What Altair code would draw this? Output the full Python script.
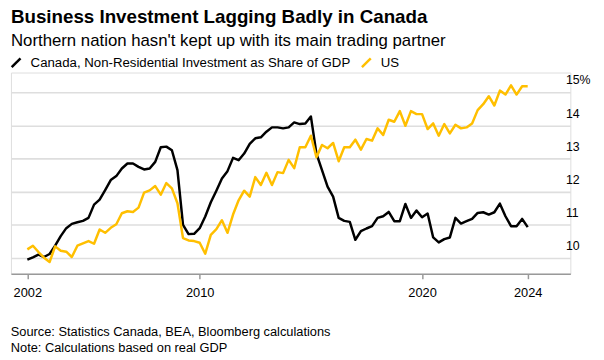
import altair as alt
import pandas as pd

title_text = "Business Investment Lagging Badly in Canada"
subtitle_text = "Northern nation hasn't kept up with its main trading partner"
series_names = ["Canada, Non-Residential Investment as Share of GDP", "US"]
series_colors = ["#000000", "#FFBF00"]
source_lines = [
    "Source: Statistics Canada, BEA, Bloomberg calculations",
    "Note: Calculations based on real GDP",
]

# Quarterly shares of GDP (%)
canada = [
    9.95, 10.02, 10.10, 10.03, 10.12, 10.37, 10.66, 10.90, 11.03, 11.08,
    11.12, 11.21, 11.61, 11.76, 12.05, 12.35, 12.47, 12.70, 12.85, 12.85,
    12.75, 12.67, 12.70, 12.90, 13.34, 13.36, 13.25, 12.65, 11.00, 10.72,
    10.73, 10.90, 11.25, 11.68, 12.03, 12.40, 12.62, 13.02, 12.95, 13.15,
    13.44, 13.61, 13.64, 13.81, 13.94, 13.94, 13.91, 13.94, 14.09, 14.04,
    14.06, 14.27, 13.15, 12.65, 12.15, 11.85, 11.21, 11.12, 11.09, 10.55,
    10.81, 10.89, 10.96, 11.21, 11.26, 11.39, 11.11, 11.11, 11.63, 11.21,
    11.43, 11.23, 11.34, 10.62, 10.47, 10.57, 10.62, 11.21, 11.04, 11.11,
    11.18, 11.36, 11.38, 11.31, 11.38, 11.64, 11.26, 10.96, 10.96, 11.18,
    10.93,
]
us = [
    10.26, 10.37, 10.18, 10.01, 9.88, 10.35, 10.22, 10.19, 10.03, 10.37,
    10.44, 10.51, 10.43, 10.86, 10.76, 10.91, 11.02, 11.35, 11.41, 11.39,
    11.52, 11.97, 12.04, 12.17, 11.91, 12.26, 12.10, 11.65, 10.60, 10.53,
    10.51, 10.46, 10.13, 10.70, 10.87, 11.14, 10.76, 11.31, 11.74, 12.03,
    11.85, 12.44, 12.20, 12.57, 12.20, 12.59, 12.56, 12.96, 12.71, 13.34,
    13.34, 13.69, 13.04, 13.41, 13.31, 13.47, 12.92, 13.34, 13.34, 13.57,
    13.27, 13.59, 13.54, 13.91, 13.71, 14.17, 14.11, 14.43, 13.99, 14.43,
    14.34, 14.34, 13.89, 14.06, 13.69, 14.04, 13.76, 14.02, 13.91, 13.94,
    14.06, 14.46, 14.64, 14.88, 14.60, 15.05, 14.93, 15.21, 14.93, 15.18,
    15.18,
]
first_quarter = 2002.25
quarters = [first_quarter + 0.25 * i for i in range(len(canada))]

x_ticks = [2002.25, 2010, 2020, 2024.75]
y_ticks = [10, 11, 12, 13, 14, 15]

n = len(canada)
df = pd.DataFrame({
    "t": quarters + quarters,
    "v": canada + us,
    "s": [series_names[0]] * n + [series_names[1]] * n,
})

FONT = "Liberation Sans"

lines = alt.Chart(df).mark_line(strokeWidth=2.5, strokeJoin="round").encode(
    x=alt.X(
        "t:Q",
        scale=alt.Scale(domain=[2001.513, 2026.668], nice=False, zero=False),
        axis=alt.Axis(
            values=x_ticks, labelExpr="toString(floor(datum.value))", title=None,
            grid=False, domainColor="#999999", domainWidth=1.5, tickColor="#999999",
            tickSize=5, tickWidth=1.5, labelFont=FONT, labelFontSize=13,
            labelColor="#000000", labelPadding=8,
        ),
    ),
    y=alt.Y(
        "v:Q",
        scale=alt.Scale(domain=[9.524, 15.595], nice=False, zero=False),
        axis=alt.Axis(
            orient="right", values=y_ticks,
            labelExpr="datum.value == 15 ? '15%' : datum.value", title=None,
            grid=True, gridColor="#dedede", gridWidth=1.6, domain=False, ticks=False,
            labelAlign="left", labelBaseline="alphabetic", labelPadding=-5,
            labelOffset=-8.5, labelFont=FONT, labelFontSize=12.5, labelColor="#000000",
        ),
    ),
    color=alt.Color(
        "s:N",
        scale=alt.Scale(domain=series_names, range=series_colors),
        legend=alt.Legend(
            orient="none", legendX=-1.5, legendY=-17, direction="horizontal", title=None,
            symbolType="M-1,1L1,-1", symbolSize=80, symbolStrokeWidth=2.5,
            labelFont=FONT, labelFontSize=13.4, labelColor="#000000",
            columnPadding=6, labelOffset=8, labelLimit=0,
        ),
    ),
    order="s:N",
)

foot1 = alt.Chart(pd.DataFrame({"line": [source_lines[0]]})).mark_text(
    align="left", baseline="middle", font=FONT, fontSize=13, color="#000000"
).encode(x=alt.value(-0.2), y=alt.value(263.5), text="line:N")

foot2 = alt.Chart(pd.DataFrame({"line": [source_lines[1]]})).mark_text(
    align="left", baseline="middle", font=FONT, fontSize=13, color="#000000"
).encode(x=alt.value(-0.2), y=alt.value(279.5), text="line:N")

chart = alt.layer(lines, foot1, foot2).properties(
    width=567,
    height=204,
    padding={"left": 3, "top": 63, "right": 26, "bottom": 85},
    autosize=alt.AutoSizeParams(type="none"),
    title=alt.TitleParams(
        text=title_text, subtitle=subtitle_text, anchor="start", frame="group",
        font=FONT, fontSize=19, fontWeight="bold", color="#000000",
        subtitleFont=FONT, subtitleFontSize=17, subtitleColor="#000000",
        subtitlePadding=6, offset=7,
    ),
).configure_view(stroke=None).configure(background="white")

chart.save("out.html", embed_options={"renderer": "svg", "actions": False})
